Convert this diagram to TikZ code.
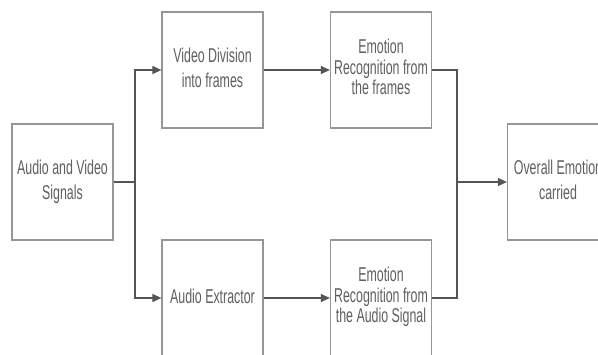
\documentclass[tikz,border=0pt]{standalone}
\usepackage{fontspec}
\setmainfont{Liberation Sans}
\usetikzlibrary{arrows.meta, positioning}
\definecolor{boxgray}{RGB}{150,150,150}
\definecolor{linegray}{RGB}{85,85,85}
\definecolor{textgray}{RGB}{95,95,95}
\newcommand{\sqz}[1]{\scalebox{0.62}[1]{\begin{tabular}{@{}c@{}}#1\end{tabular}}}

\begin{document}
\begin{tikzpicture}[x=1pt, y=-1pt,
  stage/.style={draw=boxgray, line width=1.2pt, minimum width=101pt, minimum height=116pt,
    inner sep=0pt, text=textgray, font=\fontsize{20}{25}\selectfont},
  stage3/.style={stage, font=\fontsize{20}{20}\selectfont},
  flow/.style={draw=linegray, line width=1.2pt, -{Triangle[length=9pt,width=8pt]}},
  wire/.style={draw=linegray, line width=1.2pt}]
  \useasboundingbox (0,0) rectangle (598,354);
  \clip (0,0) rectangle (598,354);

  % Input signal
  \node[stage] (signals) at (62.5,182) {\sqz{Audio and Video\\Signals}};

  % Video branch
  \node[stage] (division) at (212.5,70) {\sqz{Video Division\\into frames}};
  \node[stage3] (framerec) at (381,70) {\sqz{Emotion\\Recognition from\\the frames}};

  % Audio branch
  \node[stage] (extractor) at (212.5,298) {\sqz{Audio Extractor}};
  \node[stage3] (audiorec) at (381,298) {\sqz{Emotion\\Recognition from\\the Audio Signal}};

  % Output
  \node[stage] (overall) at (558,182) {\sqz{Overall Emotion\\carried}};

  % Split and merge points
  \coordinate (split) at (135,182);
  \coordinate (merge) at (457,182);

  % Connectors
  \draw[wire] (signals) -- (split);
  \draw[flow] (split) |- (division);
  \draw[flow] (split) |- (extractor);
  \draw[flow] (division) -- (framerec);
  \draw[flow] (extractor) -- (audiorec);
  \draw[wire] (framerec.east) -| (merge);
  \draw[wire] (audiorec.east) -| (merge);
  \draw[flow] (merge) -- (overall);
\end{tikzpicture}
\end{document}
